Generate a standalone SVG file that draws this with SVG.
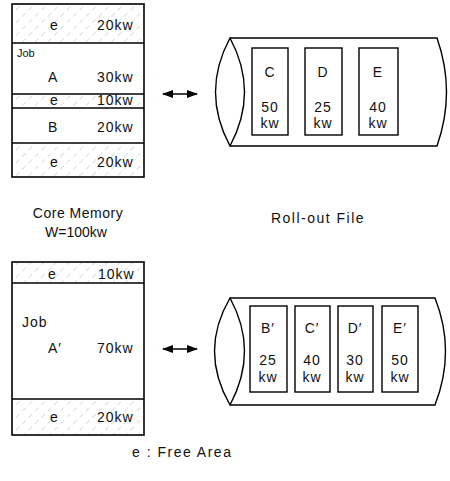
<svg xmlns="http://www.w3.org/2000/svg" width="450" height="481" viewBox="0 0 450 481">
<defs>
<pattern id="hatch" patternUnits="userSpaceOnUse" width="9" height="9" patternTransform="rotate(45)">
<line x1="0" y1="0" x2="0" y2="9" stroke="#bbb" stroke-width="1" stroke-dasharray="5 4"/>
</pattern>
<marker id="ah" viewBox="0 0 10 10" refX="9" refY="5" markerWidth="7" markerHeight="7" orient="auto-start-reverse">
<path d="M0,1.5 L10,5 L0,8.5 Z" fill="#000"/>
</marker>
</defs>
<style>
.box{fill:none;stroke:#000;stroke-width:1.6}
.free{fill:url(#hatch);stroke:none}
.t{font-family:"Liberation Sans","DejaVu Sans",sans-serif;font-size:14px;fill:#111;letter-spacing:1px}
.s{font-family:"Liberation Sans","DejaVu Sans",sans-serif;font-size:11px;fill:#111}
.m{text-anchor:middle}
.cyl{fill:none;stroke:#000;stroke-width:1.4}
.fb{fill:#fff;stroke:#000;stroke-width:1.4}
.conn{stroke:#000;stroke-width:1.6;fill:none}
</style>

<g id="memory1">
<rect class="free" x="12" y="4" width="132" height="39"/>
<rect class="free" x="12" y="94" width="132" height="14"/>
<rect class="free" x="12" y="143" width="132" height="34"/>
<rect class="box" x="12" y="4" width="132" height="173"/>
<line class="box" x1="12" y1="43" x2="144" y2="43"/>
<line class="box" x1="12" y1="94" x2="144" y2="94"/>
<line class="box" x1="12" y1="108" x2="144" y2="108"/>
<line class="box" x1="12" y1="143" x2="144" y2="143"/>
<text class="t" x="50" y="30">e</text><text class="t" x="97" y="30">20kw</text>
<text class="s" x="17" y="57">Job</text>
<text class="t" x="48" y="82">A</text><text class="t" x="97" y="82">30kw</text>
<text class="t" x="50" y="105">e</text><text class="t" x="97" y="105">10kw</text>
<text class="t" x="48" y="132">B</text><text class="t" x="97" y="132">20kw</text>
<text class="t" x="50" y="167">e</text><text class="t" x="97" y="167">20kw</text>
</g>

<g id="rollout1">
<path class="cyl" d="M230,38 L437,38 Q456,92 437,146 L230,146"/>
<path class="cyl" d="M230,38 Q201,92 230,146 Q259,92 230,38 Z"/>
<rect class="fb" x="252" y="48" width="36" height="87"/>
<rect class="fb" x="305" y="48" width="37" height="87"/>
<rect class="fb" x="359" y="48" width="39" height="87"/>
<text class="t m" x="270" y="77">C</text><text class="t m" x="270" y="112">50</text><text class="t m" x="270" y="128">kw</text>
<text class="t m" x="323" y="77">D</text><text class="t m" x="323" y="112">25</text><text class="t m" x="323" y="128">kw</text>
<text class="t m" x="378" y="77">E</text><text class="t m" x="378" y="112">40</text><text class="t m" x="378" y="128">kw</text>
</g>

<g id="labels">
<text class="t m" x="78" y="218" style="letter-spacing:0.5px">Core Memory</text>
<text class="t m" x="76" y="237" style="letter-spacing:0">W=100kw</text>
<text class="t m" x="318" y="223" style="letter-spacing:1.5px">Roll-out File</text>
</g>

<g id="memory2">
<rect class="free" x="12" y="262" width="132" height="21"/>
<rect class="free" x="12" y="399" width="132" height="36"/>
<rect class="box" x="12" y="262" width="132" height="173"/>
<line class="box" x1="12" y1="283" x2="144" y2="283"/>
<line class="box" x1="12" y1="399" x2="144" y2="399"/>
<text class="t" x="48" y="279">e</text><text class="t" x="98" y="279">10kw</text>
<text class="t" x="22" y="327">Job</text>
<text class="t" x="48" y="353">A′</text><text class="t" x="97" y="353">70kw</text>
<text class="t" x="50" y="422">e</text><text class="t" x="97" y="422">20kw</text>
</g>

<g id="rollout2">
<path class="cyl" d="M230,298 L435,298 Q456,351 435,405 L230,405"/>
<path class="cyl" d="M230,298 Q199,351 230,405 Q259,351 230,298 Z"/>
<rect class="fb" x="250" y="306" width="37" height="86"/>
<rect class="fb" x="295" y="306" width="35" height="86"/>
<rect class="fb" x="338" y="306" width="35" height="86"/>
<rect class="fb" x="382" y="306" width="36" height="86"/>
<text class="t m" x="268" y="333">B′</text><text class="t m" x="268" y="365">25</text><text class="t m" x="268" y="382">kw</text>
<text class="t m" x="312" y="333">C′</text><text class="t m" x="312" y="365">40</text><text class="t m" x="312" y="382">kw</text>
<text class="t m" x="355" y="333">D′</text><text class="t m" x="355" y="365">30</text><text class="t m" x="355" y="382">kw</text>
<text class="t m" x="400" y="333">E′</text><text class="t m" x="400" y="365">50</text><text class="t m" x="400" y="382">kw</text>
</g>

<g id="connectors">
<line class="conn" x1="163" y1="94" x2="197" y2="94" marker-start="url(#ah)" marker-end="url(#ah)"/>
<line class="conn" x1="163" y1="349" x2="197" y2="349" marker-start="url(#ah)" marker-end="url(#ah)"/>
</g>

<g id="legend">
<text class="t" x="132" y="457" style="letter-spacing:1.5px">e : Free Area</text>
</g>
</svg>
